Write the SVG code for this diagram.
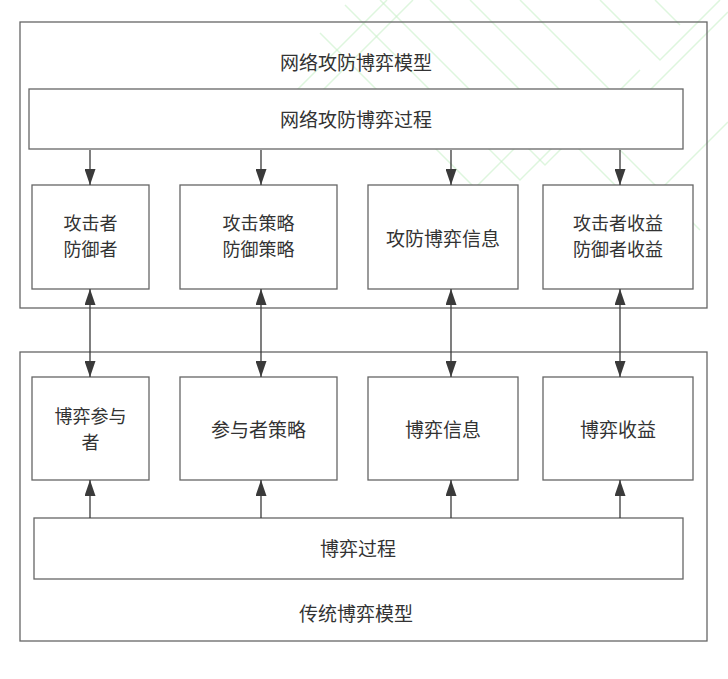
<svg xmlns="http://www.w3.org/2000/svg" width="728" height="679" viewBox="0 0 728 679">
<defs>
<marker id="ah" viewBox="0 0 16 11" refX="16" refY="5.5" markerWidth="16" markerHeight="11" markerUnits="userSpaceOnUse" orient="auto-start-reverse">
<path d="M0 0 L16 5.5 L0 11 Z" fill="#3a3a3a"/>
</marker>
<style>
.frame{fill:none;stroke:#666;stroke-width:1.3}
.box{fill:#fff;stroke:#666;stroke-width:1.3}
.t{font-family:"Noto Sans CJK SC","Noto Sans CJK JP",sans-serif;font-size:19px;fill:#333;text-anchor:middle;dominant-baseline:central}
.t2{font-size:18px}
.c{stroke:#3a3a3a;stroke-width:1.3;fill:none}
.wm{fill:none;stroke:#c8f0c8;stroke-width:1.5;opacity:0.6}
</style>
</defs>
<rect width="728" height="679" fill="#fff"/>
<g id="watermark">
<path class="wm" d="M257 130 L387 0"/>
<path class="wm" d="M268 145 L413 0"/>
<path class="wm" d="M320 33 L475 188 L560 103"/>
<path class="wm" d="M345 5 L520 180 L610 90"/>
<path class="wm" d="M380 0 L545 165 L640 70"/>
<path class="wm" d="M430 0 L640 210 L728 122"/>
<path class="wm" d="M470 0 L700 230"/>
<path class="wm" d="M520 0 L630 110 L705 35 L728 12"/>
<path class="wm" d="M600 0 L660 60 L720 0"/>
<path class="wm" d="M655 0 L680 25"/>
</g>
<g id="top-model">
<rect class="frame" x="20" y="22" width="687" height="286"/>
<text class="t" x="356" y="61">网络攻防博弈模型</text>
</g>
<g id="top-process">
<rect class="box" x="29" y="89" width="654" height="60"/>
<text class="t" x="356" y="118">网络攻防博弈过程</text>
</g>
<g id="attacker-defender">
<rect class="box" x="32" y="185" width="117" height="104"/>
<text class="t t2" x="90.5" y="222">攻击者</text>
<text class="t t2" x="90.5" y="248.4">防御者</text>
</g>
<g id="strategies">
<rect class="box" x="180" y="185" width="157" height="104"/>
<text class="t t2" x="258.5" y="222">攻击策略</text>
<text class="t t2" x="258.5" y="248.4">防御策略</text>
</g>
<g id="ad-info">
<rect class="box" x="368" y="185" width="150" height="104"/>
<text class="t" x="443" y="237">攻防博弈信息</text>
</g>
<g id="payoffs">
<rect class="box" x="543" y="185" width="150" height="104"/>
<text class="t t2" x="618" y="222">攻击者收益</text>
<text class="t t2" x="618" y="248.4">防御者收益</text>
</g>
<g id="bottom-model">
<rect class="frame" x="20" y="352" width="687" height="289"/>
<text class="t" x="356" y="612">传统博弈模型</text>
</g>
<g id="players">
<rect class="box" x="32" y="377" width="117" height="103"/>
<text class="t t2" x="90.5" y="415">博弈参与</text>
<text class="t t2" x="90.5" y="441.4">者</text>
</g>
<g id="player-strategy">
<rect class="box" x="180" y="377" width="157" height="103"/>
<text class="t" x="258.5" y="428">参与者策略</text>
</g>
<g id="game-info">
<rect class="box" x="368" y="377" width="150" height="103"/>
<text class="t" x="443" y="428">博弈信息</text>
</g>
<g id="game-payoff">
<rect class="box" x="543" y="377" width="150" height="103"/>
<text class="t" x="618" y="428">博弈收益</text>
</g>
<g id="game-process">
<rect class="box" x="34" y="518" width="649" height="61"/>
<text class="t" x="358" y="547">博弈过程</text>
</g>
<g id="connectors">
<line class="c" x1="90" y1="150" x2="90" y2="185" marker-end="url(#ah)"/>
<line class="c" x1="261" y1="150" x2="261" y2="185" marker-end="url(#ah)"/>
<line class="c" x1="451" y1="150" x2="451" y2="185" marker-end="url(#ah)"/>
<line class="c" x1="620" y1="150" x2="620" y2="185" marker-end="url(#ah)"/>
<line class="c" x1="90" y1="289" x2="90" y2="377" marker-start="url(#ah)" marker-end="url(#ah)"/>
<line class="c" x1="261" y1="289" x2="261" y2="377" marker-start="url(#ah)" marker-end="url(#ah)"/>
<line class="c" x1="451" y1="289" x2="451" y2="377" marker-start="url(#ah)" marker-end="url(#ah)"/>
<line class="c" x1="620" y1="289" x2="620" y2="377" marker-start="url(#ah)" marker-end="url(#ah)"/>
<line class="c" x1="90" y1="518" x2="90" y2="480" marker-end="url(#ah)"/>
<line class="c" x1="261" y1="518" x2="261" y2="480" marker-end="url(#ah)"/>
<line class="c" x1="451" y1="518" x2="451" y2="480" marker-end="url(#ah)"/>
<line class="c" x1="620" y1="518" x2="620" y2="480" marker-end="url(#ah)"/>
</g>
</svg>
